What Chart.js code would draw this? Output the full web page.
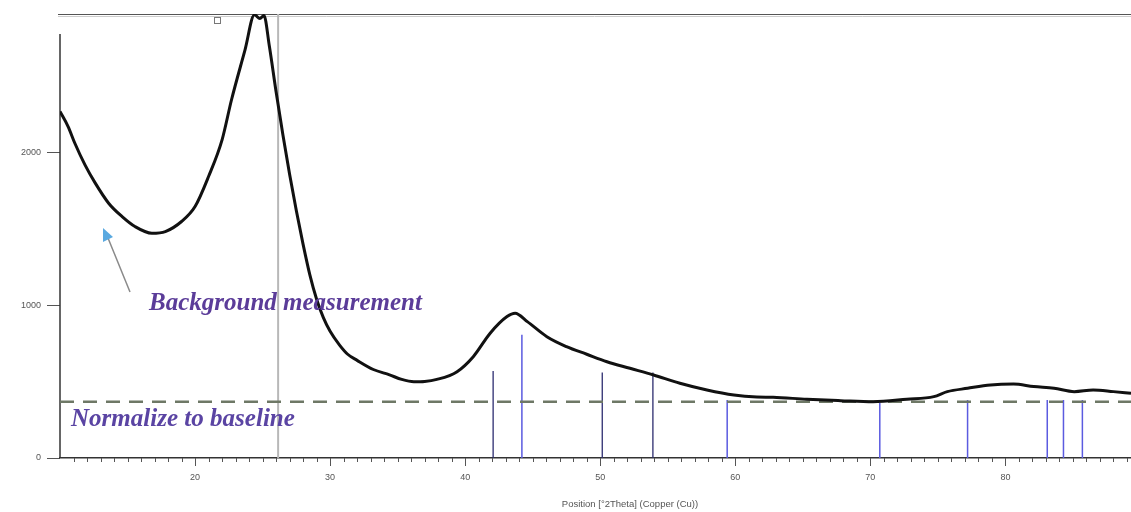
<!DOCTYPE html>
<html>
<head>
<meta charset="utf-8">
<script src="https://cdn.jsdelivr.net/npm/chart.js@4/dist/chart.umd.min.js"></script>
<style>
  html, body { margin: 0; padding: 0; background: #ffffff; }
  #wrap { width: 1131px; height: 512px; position: relative; }
</style>
</head>
<body>
<div id="wrap"><canvas id="c" width="1131" height="512"></canvas></div>
<script>
// ---- data ----
const curveX = [10.0,10.6,11.1,11.85,12.6,13.6,14.6,15.55,16.8,17.8,19.0,20.0,21.0,22.0,22.7,23.7,24.4,24.8,25.1,25.5,26.0,26.5,27.0,27.5,28.0,28.5,29.0,29.5,30.0,30.7,31.3,32.0,33.2,34.4,35.3,36.2,37.0,37.9,39.4,40.6,41.85,43.1,43.7,44.6,46.05,47.5,49.0,50.5,52.2,53.95,55.9,57.9,59.9,61.6,62.8,65.3,67.8,70.2,72.7,74.7,75.7,77.2,78.9,80.6,82.1,83.6,85.1,86.5,88.0,89.3];
const curveY = [2271,2172,2063,1921,1803,1670,1582,1517,1473,1484,1550,1648,1845,2085,2348,2675,2905,2880,2900,2700,2400,2120,1860,1620,1400,1200,1040,920,830,740,680,640,580,545,515,500,502,515,566,664,818,927,949,894,795,730,680,631,588,544,490,446,413,400,398,385,376,369,385,402,435,457,479,485,468,457,435,446,435,424];
const stickX = [42.07, 44.2, 50.15, 53.9, 59.4, 70.7, 77.2, 83.1, 84.3, 85.7];
const stickY = [570, 807, 560, 560, 380, 360, 380, 380, 380, 380];
const stickDark = [true, false, true, true, false, false, false, false, false, false];
const baselineValue = 368;
const markerX = 26.15;
const xTicks = [20, 30, 40, 50, 60, 70, 80];
const yTicks = [0, 1000, 2000];
const xRange = [10, 89.3];
const yRange = [0, 2910];
const xTitle = "Position [°2Theta] (Copper (Cu))";
const note1 = "Background measurement";
const note2 = "Normalize to baseline";

// ---- build datasets ----
const curve = curveX.map((x, i) => ({ x: x, y: curveY[i] }));
function sticks(dark) {
  const out = [];
  stickX.forEach((x, i) => {
    if (stickDark[i] !== dark) return;
    out.push({ x: x, y: 0 }, { x: x, y: stickY[i] }, { x: x, y: null });
  });
  return out;
}

const decor = {
  id: 'decor',
  beforeDatasetsDraw(chart) {
    const ctx = chart.ctx, a = chart.chartArea;
    const xs = chart.scales.x;
    ctx.save();
    // top frame line
    ctx.strokeStyle = '#555'; ctx.lineWidth = 1.2;
    ctx.beginPath(); ctx.moveTo(58, a.top + 0.5); ctx.lineTo(a.right, a.top + 0.5); ctx.stroke();
    ctx.strokeStyle = '#ccc'; ctx.lineWidth = 1;
    ctx.beginPath(); ctx.moveTo(58, a.top + 2.5); ctx.lineTo(a.right, a.top + 2.5); ctx.stroke();
    // left axis line (starts a bit lower)
    ctx.strokeStyle = '#333'; ctx.lineWidth = 1.5;
    ctx.beginPath(); ctx.moveTo(a.left, 34); ctx.lineTo(a.left, a.bottom); ctx.stroke();
    // minor x ticks every degree
    ctx.strokeStyle = '#555'; ctx.lineWidth = 1;
    for (let d = 11; d <= 89; d++) {
      const px = Math.round(xs.getPixelForValue(d)) + 0.5;
      ctx.beginPath(); ctx.moveTo(px, a.bottom); ctx.lineTo(px, a.bottom + 4); ctx.stroke();
    }
    // small icon at top
    ctx.strokeStyle = '#777'; ctx.lineWidth = 1;
    ctx.strokeRect(214.5, 17.5, 6, 6);
    ctx.restore();
  },
  afterDatasetsDraw(chart) {
    const ctx = chart.ctx;
    ctx.save();
    // arrow
    ctx.strokeStyle = '#8a8a8a'; ctx.lineWidth = 1.5;
    ctx.beginPath(); ctx.moveTo(130, 292); ctx.lineTo(108, 238); ctx.stroke();
    ctx.fillStyle = '#5aa9e0';
    ctx.beginPath(); ctx.moveTo(103, 228); ctx.lineTo(113, 237); ctx.lineTo(103, 242); ctx.closePath(); ctx.fill();
    // annotation texts, fitted to their widths
    function fitText(txt, x, baseline, width, color) {
      ctx.font = 'italic bold 20px "Liberation Serif", "DejaVu Serif", serif';
      const w = ctx.measureText(txt).width;
      const size = 20 * width / w;
      ctx.font = 'italic bold ' + size.toFixed(2) + 'px "Liberation Serif", "DejaVu Serif", serif';
      ctx.fillStyle = color; ctx.textAlign = 'left'; ctx.textBaseline = 'alphabetic';
      ctx.fillText(txt, x, baseline);
    }
    fitText(note1, 149, 310, 273, '#5b3c99');
    fitText(note2, 71, 426, 224, '#5a44a3');
    // x axis title
    ctx.font = '9.5px "Liberation Sans", Arial, sans-serif';
    ctx.fillStyle = '#555'; ctx.textAlign = 'center'; ctx.textBaseline = 'middle';
    ctx.fillText(xTitle, 630, 504);
    ctx.restore();
  }
};

new Chart(document.getElementById('c'), {
  type: 'line',
  data: {
    datasets: [
      { label: 'scan', data: curve, borderColor: '#111', borderWidth: 3, pointRadius: 0,
        cubicInterpolationMode: 'monotone', fill: false, order: 0 },
      { label: 'baseline', data: [{ x: xRange[0], y: baselineValue }, { x: xRange[1], y: baselineValue }],
        borderColor: '#6e7866', borderWidth: 2.5, borderDash: [14, 9], pointRadius: 0, fill: false, order: 1 },
      { label: 'ref dark', data: sticks(true), borderColor: '#2d2d70', borderWidth: 1.3, pointRadius: 0,
        spanGaps: false, fill: false, order: 2 },
      { label: 'ref blue', data: sticks(false), borderColor: '#5b5be0', borderWidth: 1.5, pointRadius: 0,
        spanGaps: false, fill: false, order: 2 },
      { label: 'marker', data: [{ x: markerX, y: yRange[0] }, { x: markerX, y: yRange[1] }],
        borderColor: '#b8b8b8', borderWidth: 2, pointRadius: 0, fill: false, order: 3 }
    ]
  },
  options: {
    responsive: false,
    animation: false,
    layout: { padding: { top: 14, right: 0, left: 0, bottom: 0 } },
    plugins: { legend: { display: false }, tooltip: { enabled: false } },
    scales: {
      x: {
        type: 'linear', min: xRange[0], max: xRange[1],
        afterFit(s) { s.height = 54; },
        afterBuildTicks(s) { s.ticks = xTicks.map(v => ({ value: v })); },
        border: { display: true, color: '#333', width: 1.5 },
        grid: { display: true, drawOnChartArea: false, drawTicks: true, tickLength: 8, color: '#555' },
        ticks: { color: '#555', font: { size: 9, family: '"Liberation Sans", Arial, sans-serif' }, padding: 6,
                 maxRotation: 0, callback: v => String(v) }
      },
      y: {
        type: 'linear', min: yRange[0], max: yRange[1],
        afterFit(s) { s.width = 60; },
        afterBuildTicks(s) { s.ticks = yTicks.map(v => ({ value: v })); },
        border: { display: false },
        grid: { display: true, drawOnChartArea: false, drawTicks: true, tickLength: 13, color: '#555' },
        ticks: { color: '#555', font: { size: 9, family: '"Liberation Sans", Arial, sans-serif' }, padding: 6,
                 callback: v => String(v) }
      }
    }
  },
  plugins: [decor]
});
</script>
</body>
</html>
